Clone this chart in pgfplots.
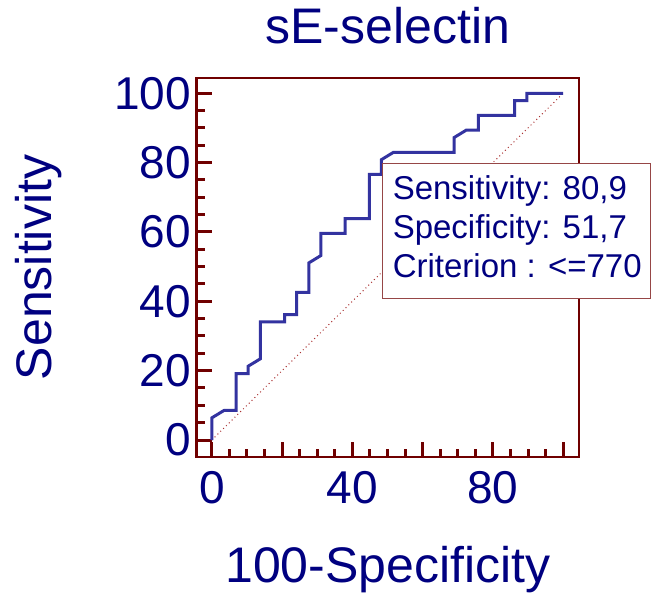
\documentclass[border=0pt]{standalone}
\usepackage{pgfplots}
\pgfplotsset{compat=1.18}
\usepackage{pgfplotstable}
\usepackage{fontspec}
\setmainfont{Liberation Sans}
\definecolor{framered}{RGB}{112,0,0}
\definecolor{navytext}{RGB}{0,0,128}
\definecolor{curveblue}{RGB}{51,51,160}
\definecolor{diagred}{RGB}{170,50,50}
\definecolor{boxedge}{RGB}{150,70,70}

\pgfplotstableread{
x y
0 0
0 6.38
3.45 8.51
6.90 8.51
6.90 19.15
10.34 19.15
10.34 21.28
13.79 23.40
13.79 34.04
20.69 34.04
20.69 36.17
24.14 36.17
24.14 42.55
27.59 42.55
27.59 51.06
31.03 53.19
31.03 59.57
37.93 59.57
37.93 63.83
44.83 63.83
44.83 76.60
48.28 76.60
48.28 80.85
51.72 82.98
68.97 82.98
68.97 87.23
72.41 89.36
75.86 89.36
75.86 93.62
86.21 93.62
86.21 97.87
89.66 97.87
89.66 100
100 100
}\roc

\begin{document}
\begin{tikzpicture}
\path[use as bounding box] (-196.7pt,-137pt) rectangle (454.3pt,457pt);
\begin{axis}[
  at={(0pt,0pt)}, anchor=south west,
  scale only axis, width=382.3pt, height=379pt,
  xmin=-4.3, xmax=104.5, ymin=-4.9, ymax=104.4,
  xtick={0,20,40,60,80,100}, xticklabels={0,,40,,80,},
  ytick={0,20,40,60,80,100},
  minor tick num=3,
  tick align=inside, tick pos=left,
  major tick length=15pt, minor tick length=8pt,
  tick style={draw=framered, line width=3pt},
  axis line style={draw=framered, line width=2.7pt},
  /pgf/number format/assume math mode=true,
  tick label style={font=\fontsize{46}{46}\selectfont, text=navytext},
  xticklabel style={yshift=-11pt},
  yticklabel style={xshift=-2pt},
  title={sE-selectin},
  title style={font=\fontsize{50}{50}\selectfont, text=navytext, at={(0.5,1)}, anchor=base, yshift=28pt},
  xlabel={100-Specificity},
  xlabel style={font=\fontsize{50}{50}\selectfont, text=navytext, at={(0.5,0)}, anchor=base, yshift=-125pt},
  ylabel={Sensitivity},
  ylabel style={font=\fontsize{50}{50}\selectfont, text=navytext, at={(0,0.5)}, anchor=base, yshift=144.7pt},
]
\addplot[diagred, line width=1pt, dash pattern=on 1pt off 3pt] coordinates {(0,0) (100,100)};
\addplot[curveblue, line width=3pt, line join=miter] table {\roc};
\coordinate (boxpt) at (axis cs:48.6,79.6);
\end{axis}
\draw[draw=boxedge, fill=white, line width=1pt] (boxpt) rectangle ++(268pt,-135pt);
\begin{scope}[every node/.style={anchor=base west, inner sep=0pt,
  font=\fontsize{33}{39}\selectfont, text=navytext}]
\node at ([shift={(10pt,-36pt)}]boxpt) {Sensitivity: 80,9};
\node at ([shift={(10pt,-75pt)}]boxpt) {Specificity: 51,7};
\node at ([shift={(10pt,-114pt)}]boxpt) {Criterion : <=770};
\end{scope}
\end{tikzpicture}
\end{document}
